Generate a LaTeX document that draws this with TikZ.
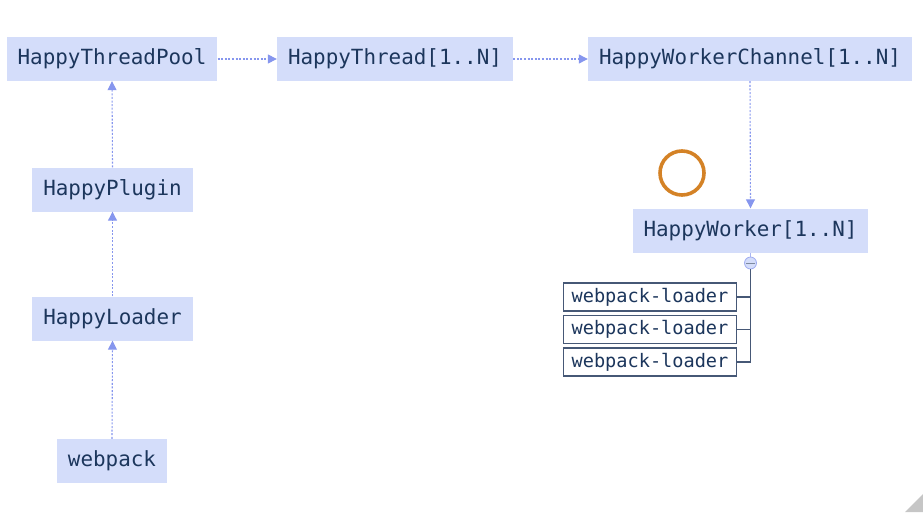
\documentclass[tikz,border=0pt]{standalone}
\usepackage{fontspec}
\setmonofont{DejaVu Sans Mono}
\usetikzlibrary{arrows.meta, positioning}

\definecolor{boxfill}{RGB}{212,221,250}
\definecolor{boxtext}{RGB}{28,54,92}
\definecolor{linkblue}{RGB}{134,150,238}
\definecolor{treeline}{RGB}{70,88,118}
\definecolor{ringorange}{RGB}{212,130,38}

\begin{document}
\begin{tikzpicture}[x=1pt, y=-1pt,
  block/.style={fill=boxfill, text=boxtext, inner xsep=11pt, inner ysep=0pt,
    minimum height=44pt, font=\ttfamily\fontsize{20.9}{24}\selectfont},
  loaderbox/.style={draw=treeline, line width=1.2pt, fill=white, text=boxtext,
    inner xsep=8pt, inner ysep=0pt, minimum height=28pt,
    font=\ttfamily\fontsize{18.6}{22}\selectfont},
  link/.style={draw=linkblue, line width=1.1pt, dash pattern=on 2pt off 1.6pt,
    -{Triangle[length=9pt,width=9pt,fill=linkblue]}}]
\useasboundingbox (0,0) rectangle (923,512);

% top row
\node [block] (pool) at (112,59) {HappyThreadPool};
\node [block] (thread) at (395,59) {HappyThread[1..N]};
\node [block] (channel) at (750,59) {HappyWorkerChannel[1..N]};

% left column
\node [block] (plugin) at (112.5,189.5) {HappyPlugin};
\node [block] (loader) at (112.5,318.5) {HappyLoader};
\node [block] (webpack) at (112,461) {webpack};

% worker side
\node [block] (worker) at (750.5,230.5) {HappyWorker[1..N]};
\draw [ringorange, line width=3.6pt] (682,173) circle [radius=22];

\node [loaderbox] (ldrA) at (650,297) {webpack-loader};
\node [loaderbox] (ldrB) at (650,329.5) {webpack-loader};
\node [loaderbox] (ldrC) at (650,362) {webpack-loader};

\draw [linkblue!70, line width=1pt] (worker.south) -- (750.5,257);
\node [circle, draw=linkblue!80, fill=boxfill, line width=0.8pt, inner sep=0pt,
  minimum size=12pt] (knob) at (750.5,263) {};
\draw [treeline!70, line width=1pt] (746,263) -- (755,263);

\draw [treeline, line width=1.2pt] (knob.south) -- (knob.south |- ldrC.east) -- (ldrC.east);
\draw [treeline, line width=1.2pt] (ldrA.east) -- (ldrA.east -| knob.south);
\draw [treeline, line width=1.2pt] (ldrB.east) -- (ldrB.east -| knob.south);

% links
\draw [link] (pool.east) -- (thread.west);
\draw [link] (thread.east) -- (channel.west);
\draw [link] (channel.south) -- (worker.north);
\draw [link] (webpack.north) -- (loader.south);
\draw [link] (loader.north) -- (plugin.south);
\draw [link] (plugin.north) -- (pool.south);

% corner
\fill [gray!45] (905,512) -- (923,494) -- (923,512) -- cycle;
\end{tikzpicture}
\end{document}
